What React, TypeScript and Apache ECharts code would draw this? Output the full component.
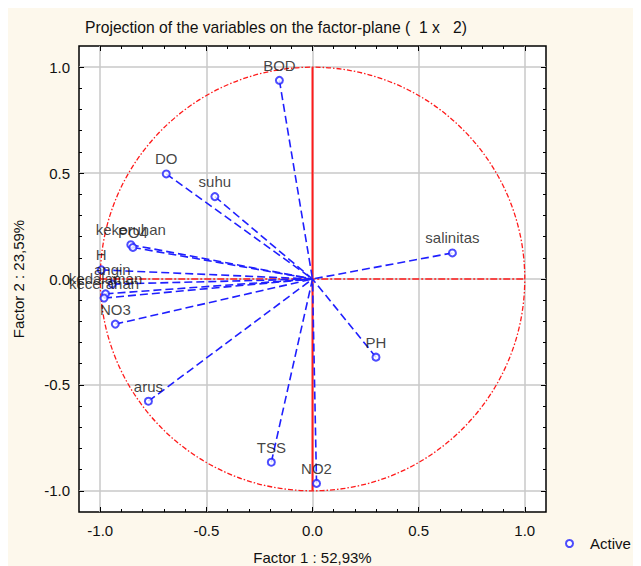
import React, { useEffect, useRef } from 'react';
import * as echarts from 'echarts';

// ---- data ----
const variableNames = ['BOD', 'DO', 'suhu', 'kekeruhan', 'PO4', 'H', 'angin', 'kedalaman', 'kecerahan', 'NO3', 'arus', 'TSS', 'NO2', 'PH', 'salinitas'];
const factor1 = [-0.156, -0.689, -0.46, -0.856, -0.846, -0.995, -0.943, -0.975, -0.982, -0.929, -0.773, -0.194, 0.019, 0.299, 0.659];
const factor2 = [0.938, 0.496, 0.389, 0.162, 0.149, 0.043, -0.024, -0.07, -0.09, -0.213, -0.577, -0.865, -0.965, -0.369, 0.123];

const majorTicks = [-1, -0.5, 0, 0.5, 1];
const minorTicks = [-0.9, -0.8, -0.7, -0.6, -0.4, -0.3, -0.2, -0.1, 0.1, 0.2, 0.3, 0.4, 0.6, 0.7, 0.8, 0.9];
const axisMin = -1.1;
const axisMax = 1.1;
const circleRadius = 1;

const titleText = 'Projection of the variables on the factor-plane (  1 x   2)';
const xName = 'Factor 1 : 52,93%';
const yName = 'Factor 2 : 23,59%';
const legendName = 'Active';

const FONT = '"Liberation Sans", Arial, sans-serif';
const BLUE = '#1f1fff';
const RED = '#ff1a1a';
const TEXT = '#111111';
const BG = '#fdf8ec';

export default function App() {
  const ref = useRef<HTMLDivElement>(null);

  useEffect(() => {
    const chart = echarts.init(ref.current!, null, { renderer: 'svg' });
    const points = variableNames.map((n, i) => ({ name: n, value: [factor1[i], factor2[i]] }));
    const fmt = (v: number) => (Math.abs(v) < 1e-9 ? '0.0' : v.toFixed(1));

    const tickAxis = (position: string, values: number[], length: number) => ({
      type: 'value',
      min: axisMin,
      max: axisMax,
      position,
      axisLine: { show: false, onZero: false },
      axisTick: { show: true, inside: true, length, customValues: values, lineStyle: { color: '#000', width: 1 } },
      axisLabel: { show: false },
      splitLine: { show: false },
    });

    const mainX = {
      type: 'value',
      min: axisMin,
      max: axisMax,
      position: 'bottom',
      name: xName,
      nameLocation: 'middle',
      nameGap: 38,
      nameTextStyle: { fontSize: 15, color: TEXT, fontFamily: FONT },
      axisLine: { show: false, onZero: false },
      axisTick: { show: true, inside: true, length: 5, customValues: majorTicks, lineStyle: { color: '#000', width: 1 } },
      axisLabel: { customValues: majorTicks, formatter: fmt, fontSize: 15, color: TEXT, fontFamily: FONT, margin: 11 },
      splitLine: { show: true, lineStyle: { color: '#c8c8c8', width: 1.5 } },
    };
    const mainY = {
      type: 'value',
      min: axisMin,
      max: axisMax,
      position: 'left',
      name: yName,
      nameLocation: 'middle',
      nameGap: 53,
      nameTextStyle: { fontSize: 15, color: TEXT, fontFamily: FONT },
      axisLine: { show: false, onZero: false },
      axisTick: { show: true, inside: true, length: 5, customValues: majorTicks, lineStyle: { color: '#000', width: 1 } },
      axisLabel: { customValues: majorTicks, formatter: fmt, fontSize: 15, color: TEXT, fontFamily: FONT, margin: 9 },
      splitLine: { show: true, lineStyle: { color: '#c8c8c8', width: 1.5 } },
    };

    chart.setOption({
      animation: false,
      backgroundColor: BG,
      title: {
        text: titleText,
        left: 77,
        top: 11,
        padding: 0,
        textStyle: { fontSize: 15.7, fontWeight: 'normal', color: TEXT, fontFamily: FONT },
      },
      legend: {
        data: [{ name: legendName }],
        left: 552,
        top: 523,
        itemWidth: 7,
        itemHeight: 7,
        textStyle: { fontSize: 15, color: TEXT, fontFamily: FONT, padding: [0, 0, 0, 12] },
      },
      grid: {
        left: 71,
        top: 38,
        width: 467,
        height: 466,
        containLabel: false,
        outerBoundsMode: 'none',
        show: true,
        backgroundColor: '#ffffff',
        borderColor: '#000000',
        borderWidth: 1.5,
      },
      xAxis: [
        mainX,
        tickAxis('bottom', minorTicks, 3),
        tickAxis('top', majorTicks, 5),
        tickAxis('top', minorTicks, 3),
      ],
      yAxis: [
        mainY,
        tickAxis('left', minorTicks, 3),
        tickAxis('right', majorTicks, 5),
        tickAxis('right', minorTicks, 3),
      ],
      series: [
        {
          type: 'custom',
          name: 'reference',
          coordinateSystem: 'cartesian2d',
          xAxisIndex: 0,
          yAxisIndex: 0,
          silent: true,
          z: 3,
          data: [[0, 0]],
          renderItem: (params: any, api: any) => {
            const c = api.coord([0, 0]);
            const r = api.coord([circleRadius, 0]);
            const l = api.coord([-circleRadius, 0]);
            const t = api.coord([0, circleRadius]);
            const b = api.coord([0, -circleRadius]);
            return {
              type: 'group',
              children: [
                {
                  type: 'ellipse',
                  shape: { cx: c[0], cy: c[1], rx: r[0] - c[0], ry: c[1] - t[1] },
                  style: { fill: 'none', stroke: RED, lineWidth: 1.3, lineDash: [5, 2, 1.5, 2] },
                },
                {
                  type: 'line',
                  shape: { x1: l[0], y1: l[1], x2: r[0], y2: r[1] },
                  style: { stroke: RED, lineWidth: 1.5, lineDash: [7, 2, 2, 2] },
                },
                {
                  type: 'line',
                  shape: { x1: t[0], y1: t[1], x2: b[0], y2: b[1] },
                  style: { stroke: RED, lineWidth: 2 },
                },
              ],
            };
          },
        },
        {
          type: 'custom',
          name: 'vectors',
          coordinateSystem: 'cartesian2d',
          xAxisIndex: 0,
          yAxisIndex: 0,
          silent: true,
          z: 4,
          data: points.map((p) => p.value),
          renderItem: (params: any, api: any) => {
            const o = api.coord([0, 0]);
            const p = api.coord([api.value(0), api.value(1)]);
            return {
              type: 'line',
              shape: { x1: p[0], y1: p[1], x2: o[0], y2: o[1] },
              style: { stroke: BLUE, lineWidth: 1.6, lineDash: [8, 4] },
            };
          },
        },
        {
          type: 'scatter',
          name: legendName,
          xAxisIndex: 0,
          yAxisIndex: 0,
          z: 5,
          symbol: 'emptyCircle',
          symbolSize: 7,
          itemStyle: { color: BLUE, borderWidth: 1.5 },
          label: {
            show: true,
            position: 'top',
            distance: 3,
            formatter: '{b}',
            fontSize: 15,
            color: TEXT,
            fontFamily: FONT,
          },
          data: points,
        },
      ],
    } as any);

    return () => chart.dispose();
  }, []);

  return <div ref={ref} style={{ width: 633, height: 558, background: BG }} />;
}
